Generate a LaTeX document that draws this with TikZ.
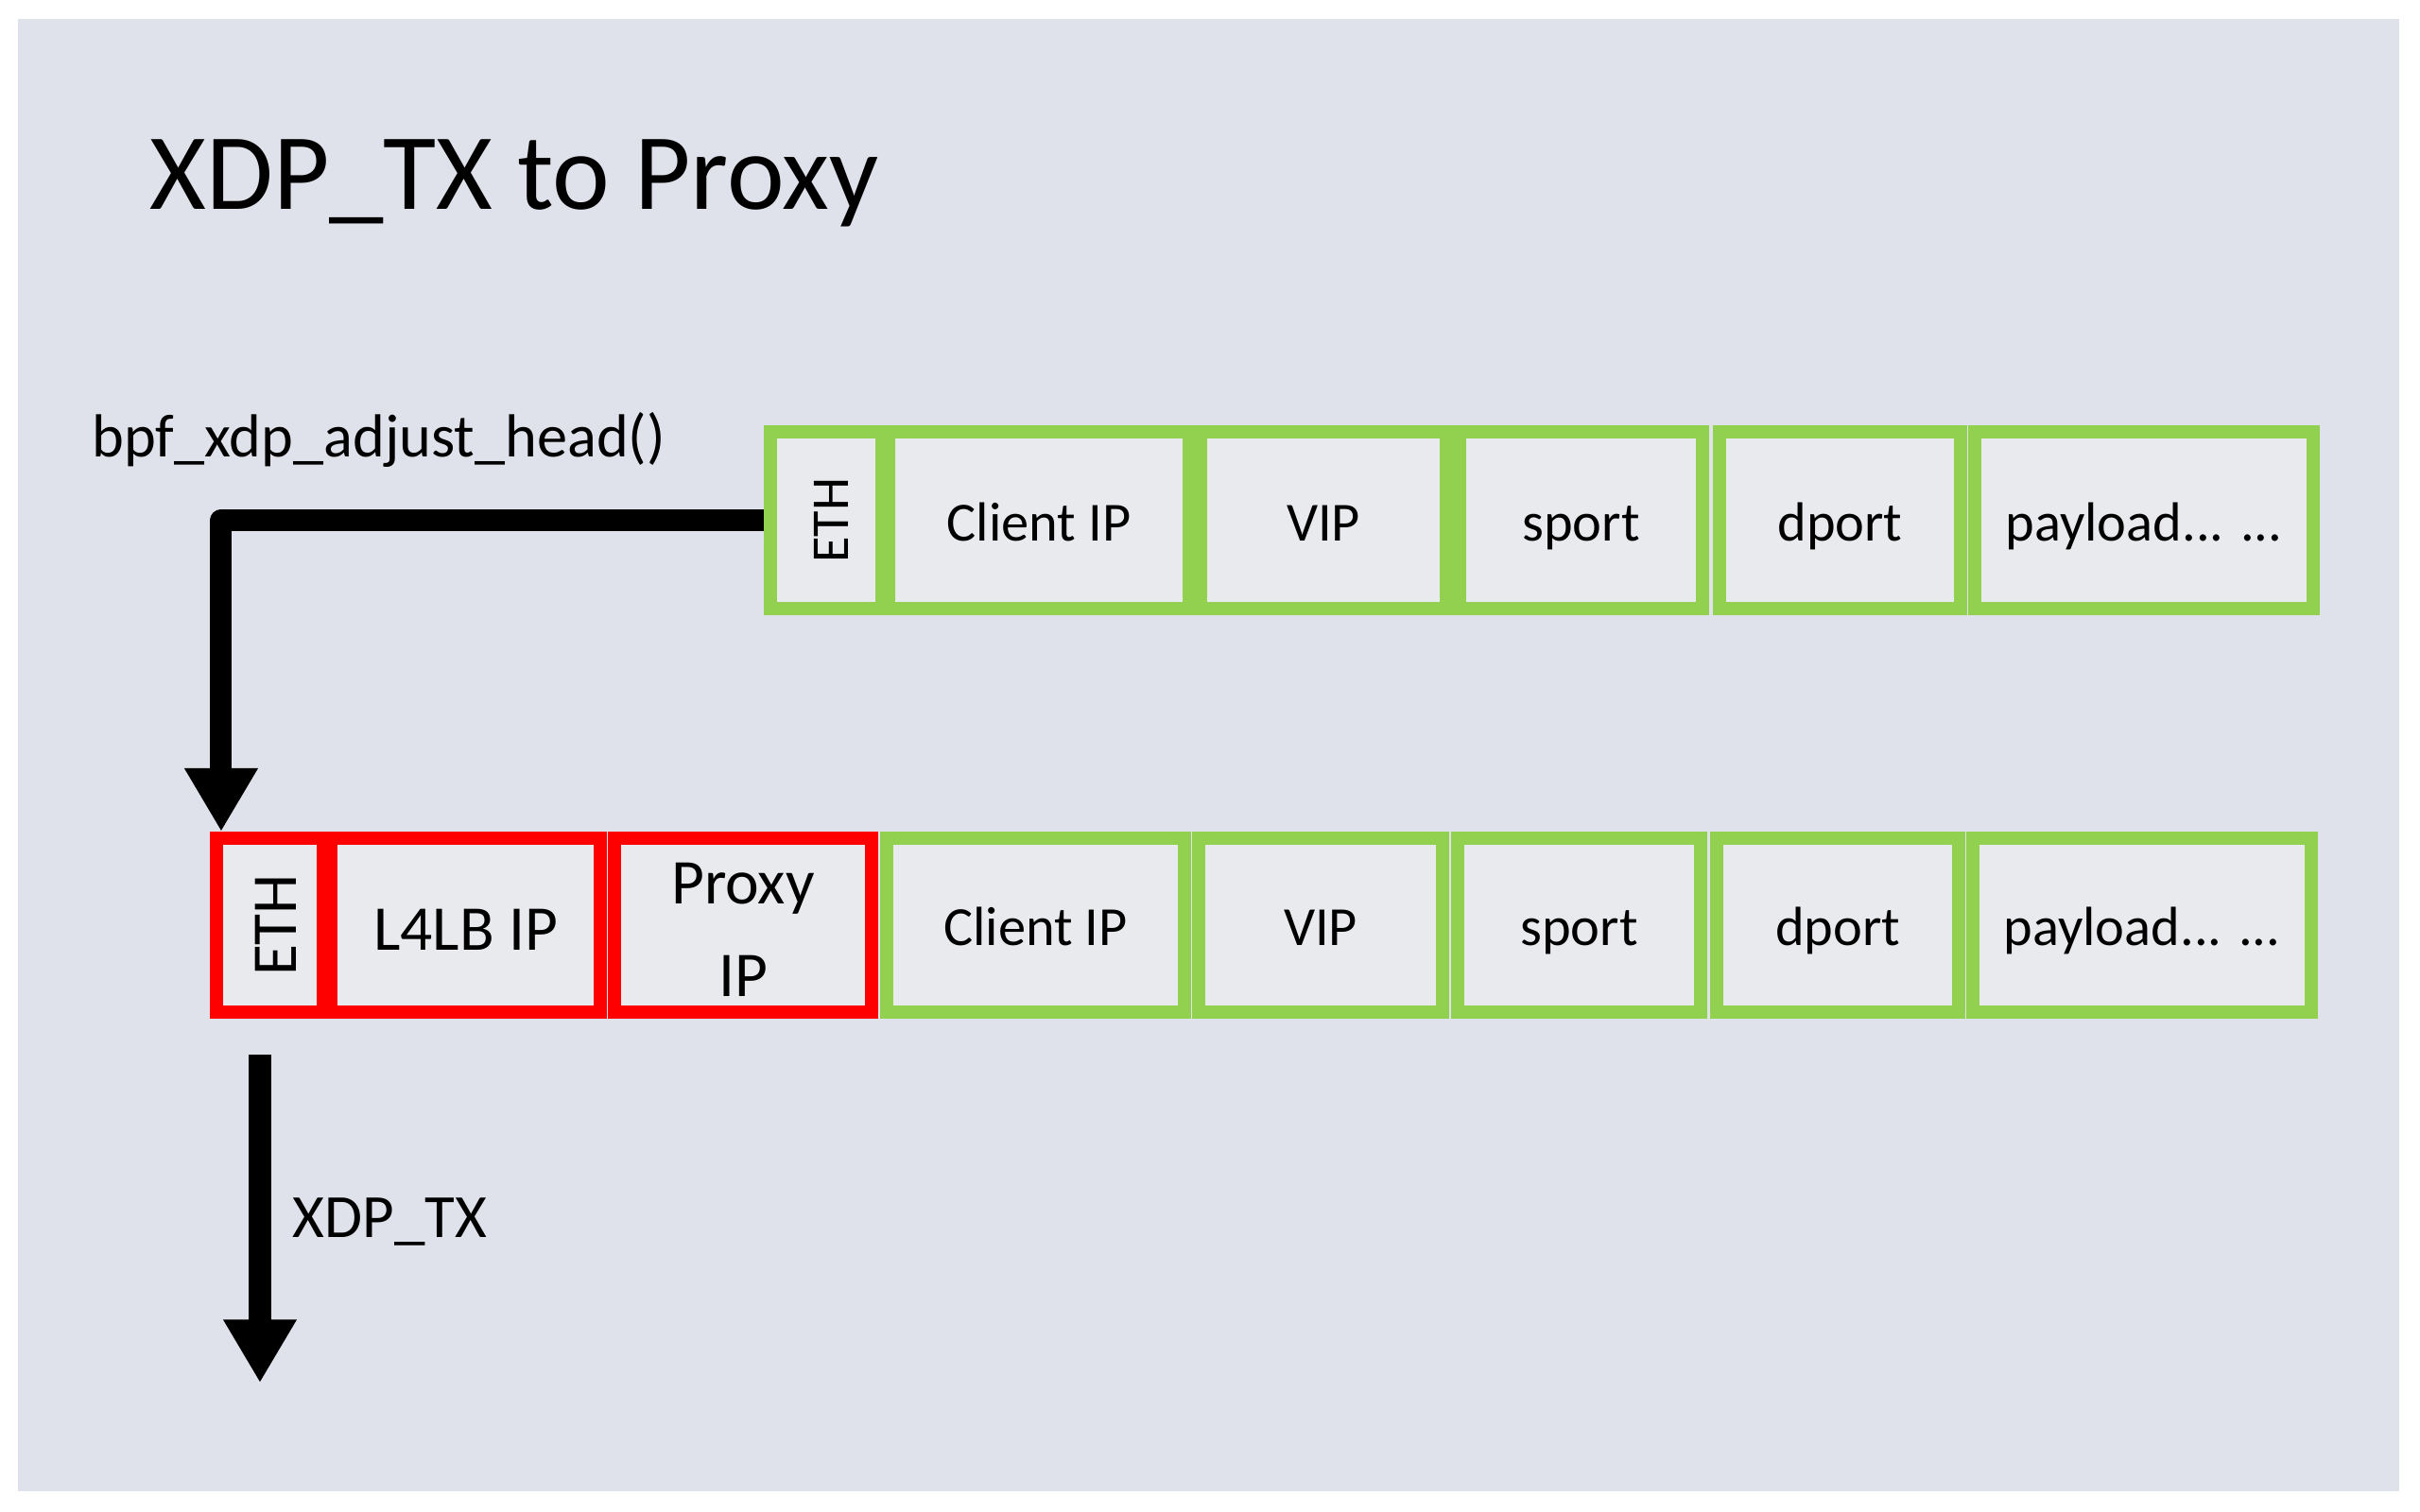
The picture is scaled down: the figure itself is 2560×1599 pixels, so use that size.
\documentclass[tikz,border=0pt]{standalone}
\usepackage{fontspec}
\usepackage{graphicx}
\setmainfont{Carlito}
\usetikzlibrary{arrows.meta}
\definecolor{panelbg}{RGB}{223,226,234}
\definecolor{cellfill}{RGB}{233,234,238}
\definecolor{pktgreen}{RGB}{146,208,80}
\definecolor{pktred}{RGB}{255,0,0}
\begin{document}
\begin{tikzpicture}[x=0.01cm,y=-0.01cm,
  cell/.style={draw, line width=0.14cm, fill=cellfill, inner sep=0pt, outer sep=0.07cm, text=black},
  gcell/.style={cell, draw=pktgreen, font=\fontsize{16.6}{20}\selectfont, text height=16pt, text depth=3.6pt},
  rcell/.style={cell, draw=pktred, font=\fontsize{19.2}{28}\selectfont, align=center, text height=19pt, text depth=3.8pt},
  natural/.style={text height={}, text depth={}},
  toprow/.style={minimum height=1.87cm},
  botrow/.style={minimum height=1.84cm},
  bigarrow/.style={line width=0.23cm, line join=round, -{Triangle[length=0.67cm,width=0.73cm]}},
  lbl/.style={anchor=base west, inner sep=0pt, text=black}]
\useasboundingbox (0,0) rectangle (2560,1599);
\fill[white] (0,0) rectangle (2560,1599);
\fill[panelbg] (19,20) rectangle (2538,1578);

\node[lbl, font=\fontsize{32.7}{38}\selectfont] (title) at (158,221) {XDP\_TX to Proxy};
\node[lbl, font=\fontsize{18.3}{22}\selectfont] (adjust) at (97,483) {bpf\_xdp\_adjust\_head()};

% top packet
\node[gcell, natural, toprow, minimum width=1.18cm] (ethT) at (874,550.5) {\rotatebox{90}{\fontsize{16}{20}\selectfont\rule{0pt}{13.5pt}ETH}};
\node[gcell, toprow, minimum width=3.18cm] (cliT) at (1099,550.5) {Client IP};
\node[gcell, toprow, minimum width=2.60cm] (vipT) at (1400,550.5) {VIP};
\node[gcell, toprow, minimum width=2.57cm] (spT) at (1672.5,550.5) {sport};
\node[gcell, toprow, minimum width=2.55cm] (dpT) at (1946.5,550.5) {dport};
\node[gcell, toprow, minimum width=3.58cm] (plT) at (2268,550.5) {payload... ...};

% bottom packet
\node[rcell, natural, botrow, minimum width=1.13cm] (ethB) at (285.5,979) {\rotatebox{90}{\rule{0pt}{15.7pt}ETH}};
\node[rcell, botrow, minimum width=2.85cm] (l4B) at (492.5,979) {L4LB IP};
\node[rcell, natural, botrow, minimum width=2.72cm] (prB) at (786,979) {\rule{0pt}{15pt}Proxy\\IP};
\node[gcell, botrow, minimum width=3.15cm] (cliB) at (1095.5,979) {Client IP};
\node[gcell, botrow, minimum width=2.58cm] (vipB) at (1397,979) {VIP};
\node[gcell, botrow, minimum width=2.57cm] (spB) at (1670.5,979) {sport};
\node[gcell, botrow, minimum width=2.56cm] (dpB) at (1944,979) {dport};
\node[gcell, botrow, minimum width=3.58cm] (plB) at (2266,979) {payload... ...};

% arrows
\draw[bigarrow] (ethT.west) -| ([xshift=0.12cm]ethB.north west);
\coordinate (txtop) at ([xshift=-0.105cm,yshift=-0.38cm]ethB.south);
\coordinate (txbot) at ([yshift=-3.47cm]txtop);
\draw[bigarrow] (txtop) -- (txbot);
\node[lbl, font=\fontsize{18.5}{22}\selectfont] (txlbl) at (309,1309) {XDP\_TX};
\end{tikzpicture}
\end{document}
